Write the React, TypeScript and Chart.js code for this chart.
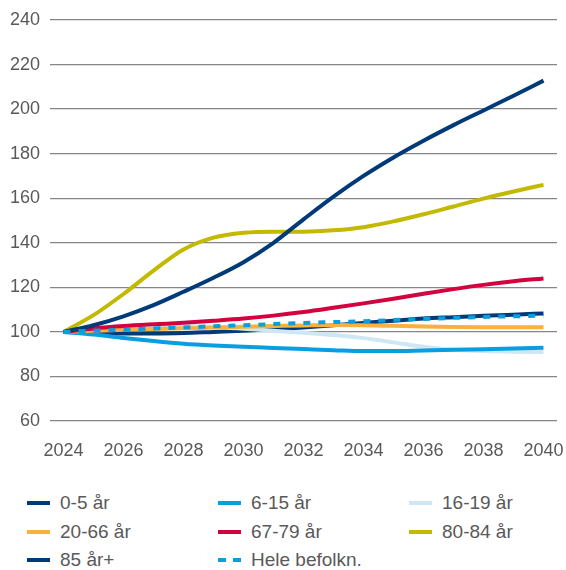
import React, { useEffect, useRef } from "react";
import { Chart, registerables } from "chart.js";

Chart.register(...registerables);

const years = [2024, 2025, 2026, 2027, 2028, 2029, 2030, 2031, 2032, 2033, 2034, 2035, 2036, 2037, 2038, 2039, 2040];
const xTickLabels = [2024, 2026, 2028, 2030, 2032, 2034, 2036, 2038, 2040];
const yTicks = [60, 80, 100, 120, 140, 160, 180, 200, 220, 240];

const age0to5 = [100, 99.6, 99.3, 99.3, 99.5, 100, 100.5, 101.2, 102, 103, 104, 105, 106, 106.6, 107.2, 107.7, 108.3];
const age6to15 = [100, 98.8, 97.3, 95.9, 94.7, 93.9, 93.3, 92.8, 92.3, 91.8, 91.4, 91.4, 91.7, 92, 92.2, 92.5, 92.9];
const age16to19 = [100, 101.2, 102.1, 102.6, 102.6, 102.2, 101.4, 100.5, 99.6, 98.6, 97.2, 95.3, 93.3, 92, 91.4, 91.1, 91];
const age20to66 = [100, 100.5, 101, 101.3, 101.6, 102, 102.3, 102.6, 102.9, 103.1, 103, 102.7, 102.4, 102.2, 102.1, 102.1, 102.1];
const age67to79 = [100, 101.5, 102.6, 103.4, 104.1, 105, 106, 107.3, 108.9, 110.8, 112.8, 114.9, 117.1, 119.2, 121.1, 122.7, 124];
const age80to84 = [100, 107.5, 117, 127.5, 137, 142.3, 144.5, 145, 145, 145.6, 147, 149.6, 152.8, 156.3, 159.8, 163, 166];
const age85plus = [100, 103, 107, 112, 118, 124.3, 131.3, 140, 150.5, 160.7, 170, 178.3, 185.8, 192.8, 199.4, 206, 212.8];
const wholePop = [100, 100.5, 101, 101.5, 102, 102.5, 103, 103.5, 104, 104.4, 104.8, 105.3, 105.8, 106.3, 106.7, 107, 107.3];

const seriesNames = ["0-5 år", "6-15 år", "16-19 år", "20-66 år", "67-79 år", "80-84 år", "85 år+", "Hele befolkn."];
const seriesValues = [age0to5, age6to15, age16to19, age20to66, age67to79, age80to84, age85plus, wholePop];
const seriesColors = ["#003a78", "#0a9ddf", "#cfe6f5", "#f9b13b", "#d2043f", "#c2b900", "#003a78", "#0a9ddf"];
const seriesDashed = [false, false, false, false, false, false, false, true];
const seriesOrder = [7, 5, 6, 4, 3, 2, 1, 0];

const FONT = "'Liberation Sans', Arial, Helvetica, sans-serif";
const TEXT = "#595959";

export default function App() {
  const ref = useRef<HTMLCanvasElement | null>(null);

  useEffect(() => {
    document.body.style.margin = "0";
    if (!ref.current) return;
    const chart = new Chart(ref.current, {
      type: "line",
      data: {
        datasets: seriesNames.map((name, i) => ({
          label: name,
          data: seriesValues[i].map((v, j) => ({ x: years[j], y: v })),
          borderColor: seriesColors[i],
          backgroundColor: seriesColors[i],
          borderWidth: 4,
          borderDash: seriesDashed[i] ? [7, 8] : [],
          pointRadius: 0,
          cubicInterpolationMode: "monotone",
          fill: false,
          order: seriesOrder[i],
        })),
      },
      options: {
        animation: false,
        responsive: false,
        maintainAspectRatio: false,
        layout: { padding: { top: 20, right: 9, left: 0, bottom: 0 } },
        plugins: { legend: { display: false }, tooltip: { enabled: false } },
        scales: {
          x: {
            type: "linear",
            min: 2023.55,
            max: 2040.45,
            afterBuildTicks: (scale: any) => {
              scale.ticks = xTickLabels.map((v) => ({ value: v }));
            },
            afterFit: (scale: any) => {
              scale.height = 45;
              scale.paddingLeft = 0;
              scale.paddingRight = 0;
            },
            grid: { display: false, drawTicks: false },
            border: { display: false },
            ticks: {
              padding: 19,
              color: TEXT,
              font: { family: FONT, size: 18 },
              maxRotation: 0,
              autoSkip: false,
              callback: (v: any) => String(v),
            },
          },
          y: {
            type: "linear",
            min: 60,
            max: 240,
            afterBuildTicks: (scale: any) => {
              scale.ticks = yTicks.map((v) => ({ value: v }));
            },
            afterFit: (scale: any) => {
              scale.width = 50;
              scale.paddingTop = 0;
              scale.paddingBottom = 0;
            },
            grid: { color: "#868686", lineWidth: 1.3, drawTicks: false },
            border: { display: false },
            ticks: {
              padding: 10,
              color: TEXT,
              font: { family: FONT, size: 18 },
              callback: (v: any) => String(v),
            },
          },
        },
      },
    });
    return () => chart.destroy();
  }, []);

  const colX = [27, 218, 409];
  const rowY = [503, 532, 560];

  return (
    <div style={{ position: "relative", width: 566, height: 570, background: "#fff" }}>
      <canvas ref={ref} width={566} height={466} style={{ position: "absolute", left: 0, top: 0, width: 566, height: 466 }} />
      {seriesNames.map((name, i) => {
        const col = i % 3;
        const row = Math.floor(i / 3);
        return (
          <div
            key={name}
            style={{
              position: "absolute",
              left: colX[col],
              top: rowY[row] - 12,
              height: 24,
              display: "flex",
              alignItems: "center",
              fontFamily: FONT,
              fontSize: 19,
              color: TEXT,
              whiteSpace: "nowrap",
            }}
          >
            <span
              style={{
                display: "inline-block",
                width: 23,
                height: 0,
                borderTop: seriesDashed[i] ? `4px dashed ${seriesColors[i]}` : `4px solid ${seriesColors[i]}`,
                marginRight: 10,
              }}
            />
            <span>{name}</span>
          </div>
        );
      })}
    </div>
  );
}
